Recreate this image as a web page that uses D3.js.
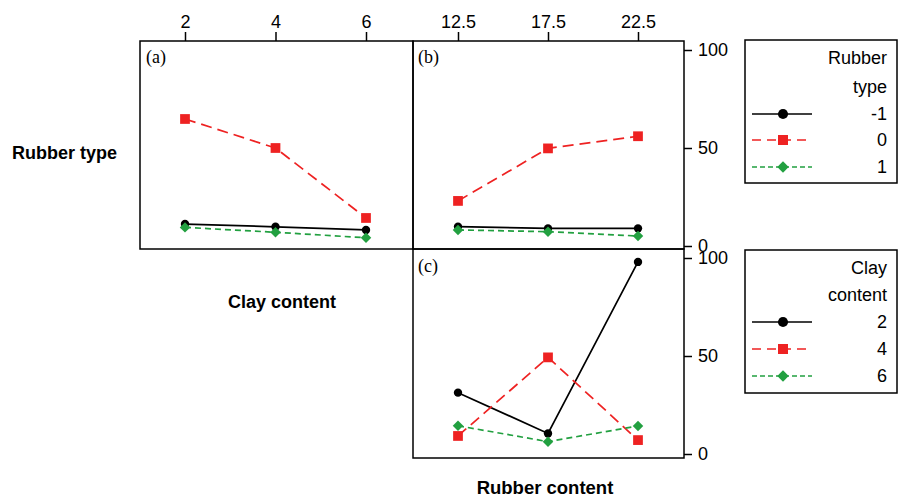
<!DOCTYPE html>
<html><head><meta charset="utf-8">
<script src="https://cdn.jsdelivr.net/npm/d3@7"></script>
<style>
body{margin:0;background:#fff;}
svg{display:block;}
</style></head><body>
<svg id="c" width="898" height="498"></svg>
<script>
// ---- data ----
const clayLevels = [2, 4, 6];
const rubberLevels = [12.5, 17.5, 22.5];
const rubberTypes = ["-1", "0", "1"];
const clayNames = ["2", "4", "6"];
// panel (a): mean vs clay content, per rubber type
const aBlack = [11.2, 9.8, 8.2];
const aRed = [64.8, 50.0, 14.3];
const aGreen = [9.5, 7.0, 4.2];
// panel (b): mean vs rubber content, per rubber type
const bBlack = [9.9, 9.0, 9.0];
const bRed = [23.0, 49.8, 56.0];
const bGreen = [8.2, 7.3, 5.1];
// panel (c): mean vs rubber content, per clay content
const cBlack = [31.3, 10.5, 98.0];
const cRed = [9.2, 49.3, 7.1];
const cGreen = [14.4, 6.3, 14.3];
const yTicks = [0, 50, 100];

const svg = d3.select("#c");
const sans = "Arial,'Liberation Sans',sans-serif";
const diamond = {draw(ctx, size){ const r = Math.sqrt(size/2); ctx.moveTo(0,-r); ctx.lineTo(r,0); ctx.lineTo(0,r); ctx.lineTo(-r,0); ctx.closePath(); }};
const styles = [
  {color:"#000000", dash:null, legDash:null, shape:d3.symbolCircle, size:55, legSize:80},
  {color:"#ee2222", dash:"11,6", legDash:"9,6", shape:d3.symbolSquare, size:95, legSize:100},
  {color:"#22a040", dash:"6,4", legDash:"5,3", shape:diamond, size:55, legSize:65}
];

const xA = d3.scaleLinear().domain([2,6]).range([185,366]);
const xB = d3.scaleLinear().domain([12.5,22.5]).range([458,638]);
const yAB = d3.scaleLinear().domain([0,100]).range([246,50]);
const yC = d3.scaleLinear().domain([0,100]).range([454,258]);

// frames
const frame = (x,y,w,h)=>svg.append("rect").attr("x",x).attr("y",y).attr("width",w).attr("height",h)
  .attr("fill","none").attr("stroke","#000").attr("stroke-width",1.5);
frame(140,41,273,208);
frame(413,41,271,208);
frame(413,249,271,209);

function styleAxis(g){
  g.select(".domain").remove();
  g.selectAll(".tick line").attr("stroke","#000").attr("stroke-width",1.5);
  g.selectAll(".tick text").attr("font-family",sans).attr("font-size",18).attr("fill","#000");
}
// top axes
svg.append("g").attr("transform","translate(0,41)")
  .call(d3.axisTop(xA).tickValues(clayLevels).tickSize(9).tickPadding(4).tickFormat(d3.format("d")))
  .call(styleAxis);
svg.append("g").attr("transform","translate(0,41)")
  .call(d3.axisTop(xB).tickValues(rubberLevels).tickSize(9).tickPadding(4).tickFormat(d3.format(".1f")))
  .call(styleAxis);
// right axes
svg.append("g").attr("transform","translate(684,0)")
  .call(d3.axisRight(yAB).tickValues(yTicks).tickSize(8).tickPadding(6))
  .call(styleAxis);
svg.append("g").attr("transform","translate(684,0)")
  .call(d3.axisRight(yC).tickValues(yTicks).tickSize(8).tickPadding(6))
  .call(styleAxis);

function series(xs, vals, xScale, yScale, st){
  const pts = xs.map((x,i)=>[xScale(x), yScale(vals[i])]);
  svg.append("path").attr("d", d3.line()(pts)).attr("fill","none")
    .attr("stroke", st.color).attr("stroke-width",1.7)
    .attr("stroke-dasharray", st.dash);
  pts.forEach(p=>{
    svg.append("path").attr("d", d3.symbol().type(st.shape).size(st.size)())
      .attr("transform",`translate(${p[0]},${p[1]})`).attr("fill", st.color);
  });
}
[aBlack,aRed,aGreen].forEach((v,i)=>series(clayLevels,v,xA,yAB,styles[i]));
[bBlack,bRed,bGreen].forEach((v,i)=>series(rubberLevels,v,xB,yAB,styles[i]));
[cBlack,cRed,cGreen].forEach((v,i)=>series(rubberLevels,v,xB,yC,styles[i]));

// panel labels
const serif = "'Liberation Serif','DejaVu Serif',serif";
[["(a)",146,63],["(b)",418,63],["(c)",418,272]].forEach(d=>{
  svg.append("text").attr("x",d[1]).attr("y",d[2]).text(d[0])
    .attr("font-family",serif).attr("font-size",18);
});

// axis titles
svg.append("text").attr("x",12).attr("y",159).text("Rubber type")
  .attr("font-family",sans).attr("font-weight","bold").attr("font-size",18);
svg.append("text").attr("x",282).attr("y",308).attr("text-anchor","middle").text("Clay content")
  .attr("font-family",sans).attr("font-weight","bold").attr("font-size",18);
svg.append("text").attr("x",545).attr("y",494).attr("text-anchor","middle").text("Rubber content")
  .attr("font-family",sans).attr("font-weight","bold").attr("font-size",18.5);

// legends
function legend(y0, h, title, names, ys){
  svg.append("rect").attr("x",745).attr("y",y0).attr("width",152).attr("height",h)
    .attr("fill","none").attr("stroke","#000").attr("stroke-width",1.5);
  title.forEach((t,i)=>svg.append("text").attr("x",887).attr("y",ys[i]+6).attr("text-anchor","end")
    .text(t).attr("font-family",sans).attr("font-size",18));
  names.forEach((n,i)=>{
    const y = ys[i+2];
    svg.append("text").attr("x",887).attr("y",y+6).attr("text-anchor","end")
      .text(n).attr("font-family",sans).attr("font-size",18);
    const st = styles[i];
    svg.append("line").attr("x1",752).attr("x2",812).attr("y1",y).attr("y2",y)
      .attr("stroke",st.color).attr("stroke-width",1.7).attr("stroke-dasharray", st.legDash);
    svg.append("path").attr("d", d3.symbol().type(st.shape).size(st.legSize)())
      .attr("transform",`translate(783,${y})`).attr("fill", st.color);
  });
}
legend(40,143,["Rubber","type"],rubberTypes,[58,87,114,140,167]);
legend(250,143,["Clay","content"],clayNames,[268,295,322,349,376]);
</script>
</body></html>
